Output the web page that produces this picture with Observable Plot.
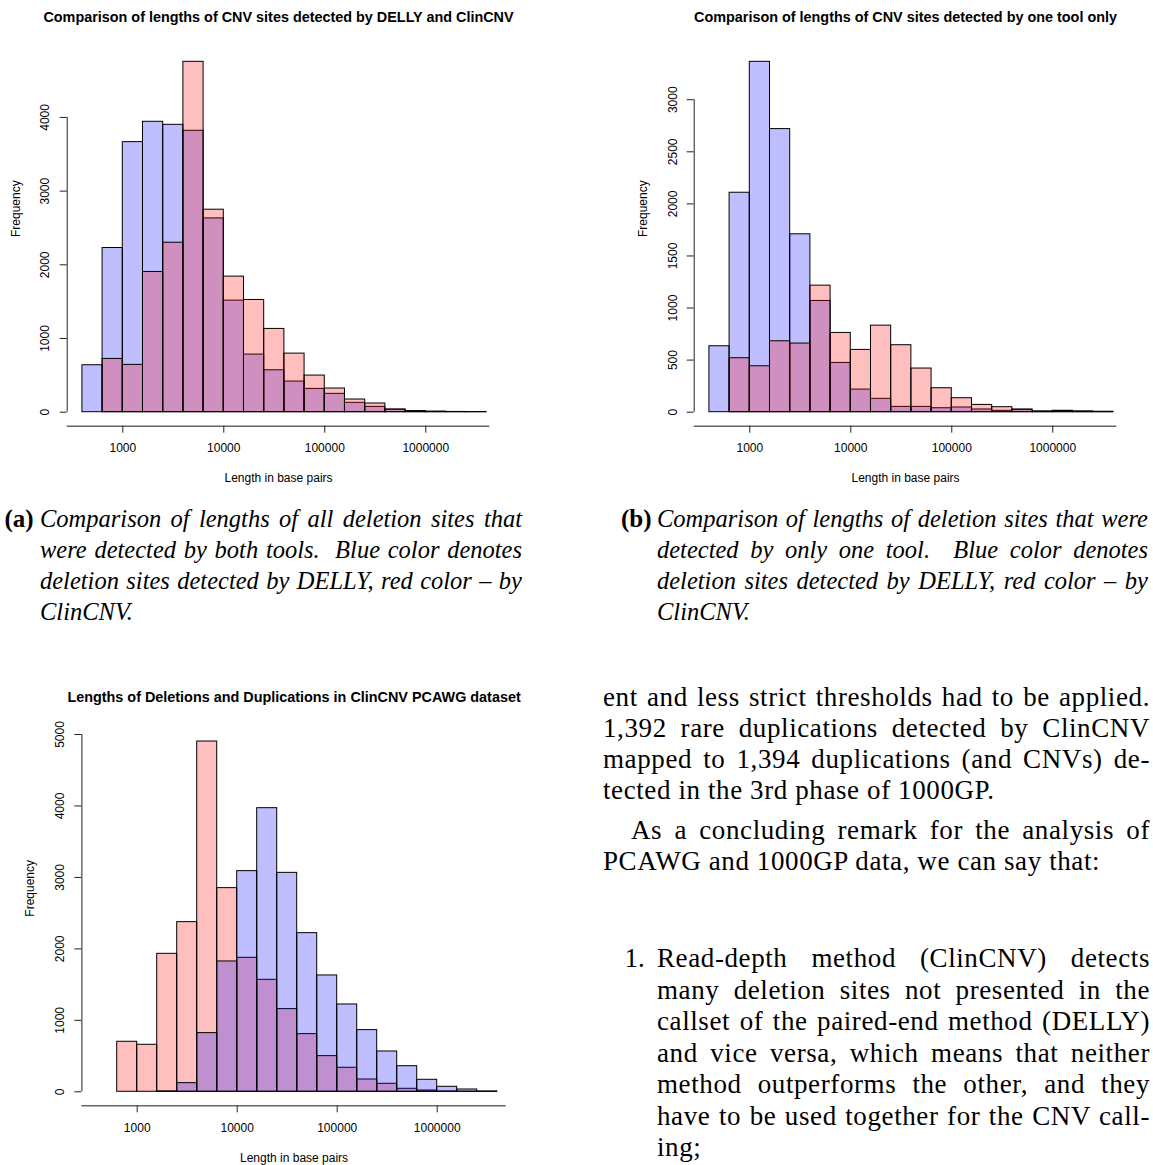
<!DOCTYPE html>
<html><head><meta charset="utf-8">
<script src="https://cdn.jsdelivr.net/npm/d3@7"></script>
<script src="https://cdn.jsdelivr.net/npm/@observablehq/plot@0.6"></script>
<style>
html,body{margin:0;padding:0;background:#fff;}
#page{position:relative;width:1153px;height:1165px;overflow:hidden;background:#fff;font-family:"Liberation Serif","Times New Roman",serif;color:#000;}
.chart{position:absolute;}
.tx{position:absolute;font-size:27px;line-height:31px;letter-spacing:0.6px;}
.tx div{text-align:justify;text-align-last:justify;}
.tx div.last{text-align-last:left;}
.cap{font-style:italic;font-size:24.5px;letter-spacing:0;}
.lab{position:absolute;font-size:27px;line-height:31px;}
.lab.c{font-size:25px;}
.lab b{font-weight:bold;}
</style></head><body><div id="page">
<div class="chart" id="chartA" style="left:0;top:0"></div>
<div class="chart" id="chartB" style="left:627px;top:0"></div>
<div class="chart" id="chartC" style="left:0;top:680px"></div>

<div class="lab c" style="left:4.5px;top:503px"><b>(a)</b></div>
<div class="tx cap" style="left:40px;top:503px;width:482px">
<div>Comparison of lengths of all deletion sites that</div>
<div>were detected by both tools.&nbsp; Blue color denotes</div>
<div>deletion sites detected by DELLY, red color – by</div>
<div class="last">ClinCNV.</div>
</div>

<div class="lab c" style="left:621px;top:503px"><b>(b)</b></div>
<div class="tx cap" style="left:657px;top:503px;width:491px">
<div>Comparison of lengths of deletion sites that were</div>
<div>detected by only one tool.&nbsp; Blue color denotes</div>
<div>deletion sites detected by DELLY, red color – by</div>
<div class="last">ClinCNV.</div>
</div>

<div class="tx" style="left:603px;top:682px;width:547px">
<div>ent and less strict thresholds had to be applied.</div>
<div>1,392 rare duplications detected by ClinCNV</div>
<div>mapped to 1,394 duplications (and CNVs) de-</div>
<div class="last">tected in the 3rd phase of 1000GP.</div>
<div style="margin-top:9px;text-indent:28px">As a concluding remark for the analysis of</div>
<div class="last">PCAWG and 1000GP data, we can say that:</div>
</div>

<div class="lab" style="left:624.5px;top:943px">1.</div>
<div class="tx" style="left:657px;top:943px;width:493px;line-height:31.5px">
<div>Read-depth method (ClinCNV) detects</div>
<div>many deletion sites not presented in the</div>
<div>callset of the paired-end method (DELLY)</div>
<div>and vice versa, which means that neither</div>
<div>method outperforms the other, and they</div>
<div>have to be used together for the CNV call-</div>
<div class="last">ing;</div>
</div>
</div>
<script>
// ---- data (log10 of length in base pairs for bin breaks) ----
const breaksAB = [2.6, 2.8, 3.0, 3.2, 3.4, 3.6, 3.8, 4.0, 4.2, 4.4, 4.6, 4.8, 5.0, 5.2, 5.4, 5.6, 5.8, 6.0, 6.2, 6.4, 6.6];
const breaksC  = [2.8, 3.0, 3.2, 3.4, 3.6, 3.8, 4.0, 4.2, 4.4, 4.6, 4.8, 5.0, 5.2, 5.4, 5.6, 5.8, 6.0, 6.2, 6.4, 6.6];
const xTickValues = [1000, 10000, 100000, 1000000];

// (a) sites detected by both tools
const dellyBoth   = [637, 2228, 3665, 3941, 3900, 3819, 2630, 1514, 782, 569, 416, 316, 249, 127, 72, 33, 12, 6, 3, 2];
const clincnvBoth = [0, 723, 642, 1903, 2300, 4755, 2748, 1840, 1523, 1130, 795, 497, 321, 172, 118, 37, 14, 6, 3, 2];
// (b) sites detected by one tool only
const dellyOnly   = [633, 2107, 3364, 2718, 1708, 1068, 473, 217, 128, 51, 51, 38, 45, 26, 13, 22, 6, 12, 6, 3];
const clincnvOnly = [0, 518, 441, 681, 659, 1215, 761, 598, 831, 643, 419, 230, 134, 70, 48, 26, 6, 13, 6, 3];
// (c) ClinCNV PCAWG: deletions (red) and duplications (blue)
const deletionsC    = [700, 658, 1931, 2374, 4902, 2850, 1875, 1567, 1157, 807, 499, 336, 172, 112, 42, 18, 4, 2, 1];
const duplicationsC = [0, 0, 5, 121, 821, 1824, 3088, 3969, 3064, 2220, 1628, 1222, 863, 564, 358, 168, 70, 32, 4];

const yTicksA = [0, 1000, 2000, 3000, 4000];
const yTicksB = [0, 500, 1000, 1500, 2000, 2500, 3000];
const yTicksC = [0, 1000, 2000, 3000, 4000, 5000];

const titleA = "Comparison of lengths of CNV sites detected by DELLY and ClinCNV";
const titleB = "Comparison of lengths of CNV sites detected by one tool only";
const titleC = "Lengths of Deletions and Duplications in ClinCNV PCAWG dataset";
const xLabel = "Length in base pairs";
const yLabel = "Frequency";

const RED = "rgb(255,0,0)", BLUE = "rgb(0,0,255)";

function hist({title, breaks, layers, yTicks, xLog, width, height, margins}) {
  const rows = (vals) => vals.map((n, i) => ({x1: 10 ** breaks[i], x2: 10 ** breaks[i + 1], n}));
  const M = d3.max(layers.flatMap(l => l.values));
  const yDom = [-0.04 * M, 1.04 * M];
  const marks = [];
  for (const l of layers) {
    marks.push(Plot.rect(rows(l.values), {
      x1: "x1", x2: "x2", y1: () => 0, y2: "n",
      fill: l.color, fillOpacity: 0.25, stroke: "#000", strokeWidth: 1
    }));
  }
  marks.push(Plot.ruleY([yDom[0]], {stroke: "#666", strokeWidth: 1.5}));
  marks.push(Plot.ruleX([10 ** xLog[0]], {y1: yTicks[0], y2: yTicks[yTicks.length - 1], stroke: "#222", strokeWidth: 1}));
  marks.push(Plot.axisY(yTicks, {anchor: "left", tickSize: 7, tickPadding: 10.7, tickRotate: -90, tickFormat: d => String(d), fontSize: 12, label: null, stroke: "#222"}));
  marks.push(Plot.axisX(xTickValues, {anchor: "bottom", tickSize: 7, tickPadding: 10.6, tickFormat: d => String(d), fontSize: 12, label: null, stroke: "#222"}));
  marks.push(Plot.text([title], {frameAnchor: "top", lineAnchor: "middle", dy: -30.3, fontWeight: "bold", fontSize: 14.4}));
  marks.push(Plot.text([yLabel], {frameAnchor: "left", rotate: -90, dx: -51.5, fontSize: 12}));
  marks.push(Plot.text([xLabel], {frameAnchor: "bottom", lineAnchor: "middle", dy: 52, fontSize: 12}));
  return Plot.plot({
    width, height,
    marginLeft: margins[0], marginRight: margins[1], marginTop: margins[2], marginBottom: margins[3],
    x: {type: "log", domain: [10 ** xLog[0], 10 ** xLog[1]]},
    y: {domain: yDom},
    style: {fontFamily: "'Liberation Sans', Arial, Helvetica, sans-serif", fontSize: "12px", background: "transparent", color: "#000", overflow: "visible"},
    marks
  });
}

document.getElementById("chartA").append(hist({
  title: titleA, breaks: breaksAB, yTicks: yTicksA, xLog: [2.4495, 6.634],
  width: 520, height: 490, margins: [66.7, 30.7, 47.3, 64.3],
  layers: [{values: dellyBoth, color: BLUE}, {values: clincnvBoth, color: RED}]
}));
document.getElementById("chartB").append(hist({
  title: titleB, breaks: breaksAB, yTicks: yTicksB, xLog: [2.4495, 6.634],
  width: 520, height: 490, margins: [66.7, 30.7, 47.3, 64.3],
  layers: [{values: dellyOnly, color: BLUE}, {values: clincnvOnly, color: RED}]
}));
document.getElementById("chartC").append(hist({
  title: titleC, breaks: breaksC, yTicks: yTicksC, xLog: [2.447, 6.69],
  width: 520, height: 485, margins: [81.4, 14.3, 47, 59.7],
  layers: [{values: deletionsC, color: RED}, {values: duplicationsC, color: BLUE}]
}));
</script></body></html>
